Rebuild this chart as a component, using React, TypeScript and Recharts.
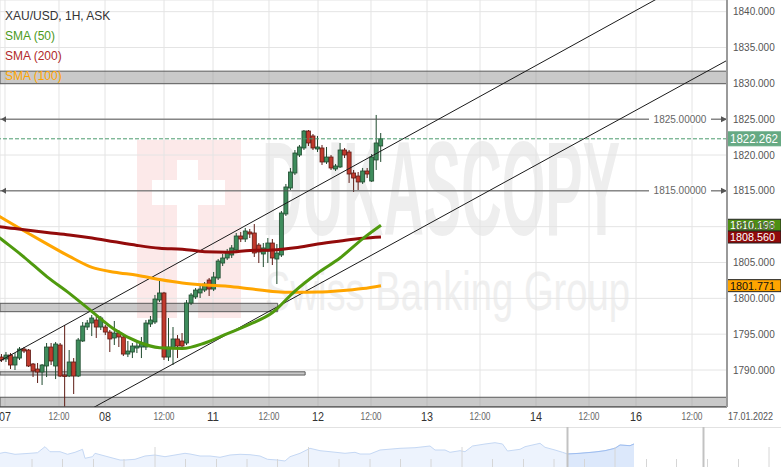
import React from "react";
import {
  ComposedChart,
  Bar,
  Line,
  XAxis,
  YAxis,
  CartesianGrid,
  ReferenceLine,
  ReferenceArea,
  AreaChart,
  Area,
} from "recharts";

const FONT = "'Liberation Sans', Arial, sans-serif";
const NARROW = "'Liberation Sans Narrow', 'Liberation Sans', Arial, sans-serif";

// ---------- hourly candles (bar index 0..84) ----------
const opens = [
  1791.81, 1791.54, 1792.09, 1790.7, 1791.67, 1792.93, 1792.79, 1790.84, 1790.14, 1789.72,
  1790.56, 1793.21, 1790.56, 1793.49, 1789.3, 1789.16, 1791.12, 1789.16, 1794.05, 1796.0,
  1796.56, 1796.98, 1796.0, 1796.0, 1795.3, 1794.47, 1795.16, 1794.61, 1792.23, 1792.51,
  1793.07, 1793.21, 1793.21, 1796.42, 1796.7, 1799.77, 1800.75, 1791.81, 1793.07, 1794.33,
  1794.05, 1793.77, 1799.35, 1800.19, 1800.75, 1801.16, 1802.56, 1801.3, 1802.84, 1804.93,
  1805.63, 1806.05, 1806.75, 1808.7, 1808.28, 1809.26, 1809.12, 1807.44, 1806.19, 1806.61,
  1807.72, 1805.49, 1806.05, 1811.77, 1815.4, 1817.49, 1820.0, 1820.98, 1823.35, 1822.66,
  1820.84, 1820.98, 1819.03, 1819.72, 1818.05, 1818.33, 1820.7, 1820.42, 1817.49, 1817.07,
  1816.24, 1817.77, 1816.37, 1819.31, 1821.26,
];
const highs = [
  1792.23, 1792.51, 1792.37, 1792.37, 1793.21, 1793.21, 1792.93, 1790.98, 1790.98, 1790.84,
  1793.77, 1793.77, 1793.91, 1793.77, 1796.28, 1792.79, 1791.67, 1794.47, 1796.7, 1796.98,
  1797.68, 1797.54, 1797.54, 1796.28, 1795.58, 1796.84, 1795.58, 1794.88, 1794.05, 1793.77,
  1794.19, 1794.61, 1796.98, 1797.54, 1800.47, 1802.42, 1800.9, 1797.26, 1796.0, 1794.88,
  1795.16, 1799.77, 1800.75, 1801.44, 1801.86, 1802.28, 1802.84, 1803.68, 1805.49, 1806.19,
  1806.89, 1807.44, 1809.12, 1809.26, 1809.82, 1809.68, 1810.37, 1807.72, 1807.72, 1808.42,
  1808.28, 1807.58, 1812.19, 1815.96, 1818.19, 1820.7, 1821.4, 1823.49, 1823.49, 1822.93,
  1822.66, 1821.4, 1821.12, 1820.0, 1818.75, 1821.68, 1820.98, 1820.7, 1817.91, 1817.63,
  1818.19, 1818.19, 1820.14, 1825.59, 1823.07,
];
const lows = [
  1791.12, 1791.12, 1790.14, 1790.0, 1791.4, 1792.37, 1790.42, 1789.02, 1788.19, 1787.91,
  1789.02, 1790.7, 1788.74, 1789.02, 1784.9, 1789.02, 1786.65, 1789.02, 1793.91, 1795.58,
  1794.74, 1794.47, 1795.58, 1794.88, 1792.51, 1793.49, 1793.21, 1791.95, 1791.81, 1791.67,
  1792.37, 1791.67, 1792.79, 1796.0, 1796.42, 1799.49, 1791.4, 1791.26, 1790.7, 1791.67,
  1792.93, 1793.49, 1799.07, 1799.91, 1800.05, 1800.88, 1800.33, 1801.02, 1802.56, 1804.51,
  1805.35, 1805.63, 1806.47, 1807.86, 1807.86, 1808.42, 1805.77, 1804.93, 1804.37, 1804.93,
  1804.65, 1802.0, 1805.77, 1811.49, 1815.12, 1817.21, 1819.72, 1820.7, 1821.26, 1820.7,
  1820.42, 1818.61, 1818.75, 1817.91, 1817.77, 1818.19, 1819.58, 1816.1, 1814.84, 1815.12,
  1815.96, 1816.79, 1816.24, 1817.91, 1819.03,
];
const closes = [
  1791.4, 1792.09, 1790.7, 1791.81, 1792.93, 1792.65, 1790.56, 1789.86, 1789.72, 1790.7,
  1793.21, 1791.26, 1793.63, 1789.16, 1789.09, 1791.12, 1789.16, 1794.19, 1796.14, 1796.56,
  1797.26, 1796.0, 1797.26, 1795.3, 1794.33, 1795.16, 1794.61, 1792.23, 1792.65, 1793.35,
  1793.35, 1793.77, 1796.56, 1796.98, 1799.91, 1800.75, 1791.81, 1793.21, 1794.33, 1793.35,
  1793.35, 1799.35, 1800.47, 1801.16, 1801.3, 1802.0, 1801.3, 1802.98, 1805.21, 1805.63,
  1806.47, 1807.03, 1808.7, 1808.28, 1809.4, 1808.98, 1806.33, 1806.47, 1807.03, 1807.72,
  1805.63, 1806.33, 1811.91, 1815.54, 1817.63, 1820.28, 1821.12, 1823.35, 1821.68, 1820.98,
  1821.12, 1819.03, 1819.72, 1818.19, 1818.47, 1820.7, 1820.0, 1817.35, 1816.79, 1816.24,
  1817.77, 1817.35, 1819.72, 1821.68, 1822.262,
];

// ---------- moving averages (sampled at bar index; first point lies just left of the view) ----------
const smaIdx = [-2, 0, 5, 10, 15, 20, 25, 30, 35, 40, 45, 50, 55, 60, 65, 70, 75, 80, 84];
const sma50 = [
  1809.2, 1808.21, 1805.73, 1803.03, 1800.69, 1798.14, 1795.65, 1793.98, 1793.11, 1793.0, 1793.77,
  1795.08, 1796.39, 1798.02, 1801.05, 1803.54, 1805.67, 1808.34, 1810.198,
];
const sma200 = [
  1810.1, 1809.97, 1809.56, 1809.19, 1808.85, 1808.42, 1807.89, 1807.39, 1807.0, 1806.86, 1806.51,
  1806.45, 1806.69, 1806.76, 1807.07, 1807.58, 1808.0, 1808.38, 1808.56,
];
const sma100 = [
  1812.0, 1811.24, 1809.4, 1807.6, 1805.85, 1804.32, 1803.65, 1803.22, 1802.62, 1802.14, 1801.86,
  1801.68, 1801.33, 1800.97, 1800.84, 1800.87, 1801.05, 1801.37, 1801.771,
];

// ---------- axes ----------
const xTicks = [0.73, 12.69, 22.88, 35.95, 46.8, 59.2, 70.06, 81.79, 94.2, 105.94, 118.34, 130.08, 140.49, 152.89];
const xTickLabels = ["07", "12:00", "08", "12:00", "11", "12:00", "12", "12:00", "13", "12:00", "14", "12:00", "16", "12:00"];
const yTicks = [1790, 1795, 1800, 1805, 1810, 1815, 1820, 1825, 1830, 1835, 1840];
const X_DOMAIN: [number, number] = [-0.3765, 160.64];
const Y_DOMAIN: [number, number] = [1784.84, 1841.63];
const dateLabel = "17.01.2022";

// ---------- drawings ----------
const zones = [
  { x1: -0.3765, x2: 160.64, y1: 1829.95, y2: 1831.7 },
  { x1: -0.3765, x2: 61.13, y1: 1798.14, y2: 1799.31 },
  { x1: -0.3765, x2: 67.2, y1: 1789.3, y2: 1789.75 },
  { x1: -0.3765, x2: 160.64, y1: 1784.84, y2: 1786.2 },
];
const channelUpper = [
  { x: -2, y: 1790.706 },
  { x: 150, y: 1843.48 },
];
const channelLower = [
  { x: 18, y: 1783.96 },
  { x: 165, y: 1834.71 },
];
const levels = [1825, 1815];
const lastPrice = 1822.262;
const tags = [
  { value: 1810.198, bg: "#4e8f12", fg: "#ffffff" },
  { value: 1808.56, bg: "#8e0a0a", fg: "#ffffff" },
  { value: 1801.771, bg: "#ffa500", fg: "#111111" },
];
const legendItems = [
  { text: "XAU/USD, 1H, ASK", color: "#333333" },
  { text: "SMA (50)", color: "#4c9a1c" },
  { text: "SMA (200)", color: "#b02a2a" },
  { text: "SMA (100)", color: "#ffa500" },
];

// ---------- navigator overview ----------
const navT = [
  0, 1, 3, 6, 7.5, 9, 10, 12, 13.5, 15, 16.5, 17, 18.5, 19, 21, 24, 25, 27, 29, 31, 33, 37, 38, 40, 42, 44,
  46, 48, 50, 52, 53.5, 55.5, 57, 58, 60, 62, 64, 66, 69, 71, 72, 74, 76, 80, 83, 86, 87, 89, 90, 92, 93,
  94.5, 97, 99, 100.5, 101.5, 104, 105, 108, 109, 111, 112.5, 113.5, 116, 119, 121, 123, 124, 126, 126.8,
];
const navV = [
  13.7, 14.7, 12.7, 13.7, 14.3, 20.3, 15.3, 15.3, 12.7, 14.7, 17.7, 8.7, 10.3, 13.7, 11, 7, 7, 7.7, 11, 12,
  10.3, 13.7, 13, 11, 11, 9.7, 12, 12.7, 12.3, 11, 7.7, 7, 6, 10.3, 13.7, 18.7, 16.3, 15.3, 13.7, 14.7, 13,
  13, 17, 18.7, 19.3, 21, 17, 17, 14.7, 16.3, 15.3, 21, 23, 24.3, 23, 16, 17.7, 20.3, 23.7, 19.7, 17, 14.7,
  13, 13.7, 15, 16.3, 18.7, 22, 21.3, 23,
];
const NAV_SEL_START = 113.5;
const NAV_SEL_END = 140.7;
const navTicks = [
  6.4, 12.5, 18.7, 24.8, 31, 37.1, 43.3, 49.4, 55.5, 61.7, 67.8, 74, 80.1, 86.2, 92.4, 98.5, 104.7, 110.8,
  116.9, 123, 129.3, 135.3, 141.5, 147.7, 153.8,
];
const navTallTicks = [31, 61.7, 92.4, 123, 153.8];

const candles = opens.map((o, i) => ({ idx: i, open: o, high: highs[i], low: lows[i], close: closes[i] }));
const sma50Data = smaIdx.map((idx, i) => ({ idx, v: sma50[i] }));
const sma200Data = smaIdx.map((idx, i) => ({ idx, v: sma200[i] }));
const sma100Data = smaIdx.map((idx, i) => ({ idx, v: sma100[i] }));
const navData = navT.map((t, i) => ({ t, v: navV[i], sel: t >= NAV_SEL_START ? navV[i] : null }));

const Candle = (props: any) => {
  const { x, y, width, height, payload } = props;
  if (!payload || x == null || y == null) return null;
  const { open, high, low, close } = payload;
  const top = Math.min(y, y + height);
  const h = Math.abs(height);
  const ppu = high - low > 0 ? h / (high - low) : 0;
  const yOf = (v: number) => top + (high - v) * ppu;
  const up = close >= open;
  const bTop = yOf(Math.max(open, close));
  const bBot = yOf(Math.min(open, close));
  const cx = x + width / 2;
  const edge = up ? "#1f4a2e" : "#5e1b14";
  return (
    <g>
      <line x1={cx} x2={cx} y1={top} y2={top + h} stroke={edge} strokeWidth={1} />
      <rect
        x={x}
        y={bTop}
        width={width}
        height={Math.max(1, bBot - bTop)}
        fill={up ? "#3e8c5c" : "#c13a2d"}
        stroke={edge}
        strokeWidth={0.8}
      />
    </g>
  );
};

const XTick = (props: any) => {
  const { x, y, payload } = props;
  const i = xTicks.indexOf(payload.value);
  const label = xTickLabels[i] ?? "";
  const day = label !== "12:00";
  return (
    <text
      x={x}
      y={y + (day ? 14 : 13)}
      textAnchor="middle"
      fontFamily={NARROW}
      fontSize={day ? 13 : 10}
      fill={day ? "#333" : "#666"}
      textLength={day ? 12 : 21}
      lengthAdjust="spacingAndGlyphs"
    >
      {label}
    </text>
  );
};

const YTick = (props: any) => {
  const { x, y, payload } = props;
  return (
    <text x={x + 6} y={y} dy={3.5} textAnchor="start" fontFamily={FONT} fontSize={10} fill="#555">
      {Number(payload.value).toFixed(3)}
    </text>
  );
};

const levelLabel = (text: string) => (props: any) => {
  const vb = props.viewBox || {};
  const x = vb.x ?? 0;
  const y = vb.y ?? 0;
  const r = x + (vb.width ?? 0);
  return (
    <g>
      <rect x={r - 78} y={y - 6} width={62} height={12} fill="#ffffff" />
      <text x={r - 47} y={y} dy={3.5} textAnchor="middle" fontFamily={FONT} fontSize={10} fill="#666">
        {text}
      </text>
      <path d={`M${x + 6},${y - 3} L${x + 1},${y} L${x + 6},${y + 3} Z`} fill="#555" />
      <path d={`M${r - 6},${y - 3} L${r},${y} L${r - 6},${y + 3} Z`} fill="#555" />
    </g>
  );
};

const priceTag = (text: string, bg: string, fg: string, h: number, fs: number, border: string) => (props: any) => {
  const vb = props.viewBox || {};
  const y = vb.y ?? 0;
  const r = (vb.x ?? 0) + (vb.width ?? 0);
  return (
    <g>
      <rect x={r} y={y - h / 2} width={54} height={h} fill={bg} stroke={border} strokeWidth={1} />
      <text
        x={r + 3}
        y={y}
        dy={fs * 0.36}
        fontFamily={FONT}
        fontSize={fs}
        fill={fg}
        textLength={fs > 11.5 ? 48 : 45}
        lengthAdjust="spacingAndGlyphs"
      >
        {text}
      </text>
    </g>
  );
};

export default function App() {
  return (
    <div
      style={{
        position: "absolute",
        left: 0,
        top: 0,
        width: 781,
        height: 467,
        background: "#ffffff",
        overflow: "hidden",
        fontFamily: FONT,
      }}
    >
      {/* watermark */}
      <svg width={781} height={427} style={{ position: "absolute", left: 0, top: 0 }}>
        <rect x={137} y={140} width={104} height={178} fill="#fce9e9" />
        <rect x={177} y={160} width={21} height={158} fill="#ffffff" />
        <rect x={152} y={180} width={73} height={25} fill="#ffffff" />
        <text
          x={262}
          y={235}
          fontSize={133}
          fontWeight="bold"
          fontFamily={NARROW}
          fill="#eeeeee"
          textLength={358}
          lengthAdjust="spacingAndGlyphs"
        >
          DUKASCOPY
        </text>
        <text
          x={265}
          y={310}
          fontSize={56}
          fontFamily={FONT}
          fill="#efefef"
          textLength={365}
          lengthAdjust="spacingAndGlyphs"
        >
          Swiss Banking Group
        </text>
      </svg>

      <div style={{ position: "absolute", left: 0, top: 0 }}>
        <ComposedChart
          width={781}
          height={427}
          data={candles}
          margin={{ top: 0, right: 0, bottom: 0, left: 0 }}
        >
          <CartesianGrid stroke="#e4e4e4" strokeWidth={1} />
          <XAxis
            dataKey="idx"
            type="number"
            domain={X_DOMAIN}
            allowDataOverflow
            ticks={xTicks}
            interval={0}
            height={20}
            tickSize={0}
            tickMargin={0}
            tickLine={false}
            axisLine={{ stroke: "#444", strokeWidth: 1 }}
            tick={<XTick />}
          />
          <YAxis
            orientation="right"
            type="number"
            domain={Y_DOMAIN}
            allowDataOverflow
            ticks={yTicks}
            interval={0}
            width={54}
            tickSize={0}
            tickMargin={0}
            tickLine={false}
            axisLine={{ stroke: "#9a9a9a", strokeWidth: 2 }}
            tick={<YTick />}
          />
          {zones.map((z, i) => (
            <ReferenceArea
              key={"z" + i}
              x1={z.x1}
              x2={z.x2}
              y1={z.y1}
              y2={z.y2}
              fill="#8f8f8f"
              fillOpacity={0.48}
              stroke="#5a5a5a"
              strokeWidth={1}
              ifOverflow="hidden"
            />
          ))}
          {levels.map((lv) => (
            <ReferenceLine
              key={"lv" + lv}
              y={lv}
              stroke="#555"
              strokeWidth={1}
              label={levelLabel(lv.toFixed(5))}
            />
          ))}
          <ReferenceLine segment={channelUpper} stroke="#1a1a1a" strokeWidth={1} ifOverflow="hidden" />
          <ReferenceLine segment={channelLower} stroke="#1a1a1a" strokeWidth={1} ifOverflow="hidden" />
          <Line
            data={sma100Data}
            dataKey="v"
            type="monotone"
            stroke="#ffa500"
            strokeWidth={3}
            dot={false}
            activeDot={false}
            isAnimationActive={false}
          />
          <Line
            data={sma200Data}
            dataKey="v"
            type="monotone"
            stroke="#930b0b"
            strokeWidth={3}
            dot={false}
            activeDot={false}
            isAnimationActive={false}
          />
          <Bar
            dataKey={(d: any) => [d.low, d.high]}
            barSize={4}
            shape={<Candle />}
            isAnimationActive={false}
          />
          <Line
            data={sma50Data}
            dataKey="v"
            type="monotone"
            stroke="#4f9a0e"
            strokeWidth={3}
            dot={false}
            activeDot={false}
            isAnimationActive={false}
          />
          <ReferenceLine
            y={lastPrice}
            stroke="#4c9c6e"
            strokeDasharray="4 2"
            strokeWidth={1}
            label={priceTag(lastPrice.toFixed(3), "#66a983", "#ffffff", 14, 12.5, "#66a983")}
          />
          {tags.map((t) => (
            <ReferenceLine
              key={"tag" + t.value}
              y={t.value}
              stroke="none"
              label={priceTag(t.value.toFixed(3), t.bg, t.fg, 12, 11, "#222")}
            />
          ))}
        </ComposedChart>
      </div>

      {/* legend */}
      <div style={{ position: "absolute", left: 5, top: 6, fontSize: 12, lineHeight: "20px", fontFamily: FONT }}>
        {legendItems.map((it) => (
          <div key={it.text} style={{ color: it.color, whiteSpace: "nowrap" }}>
            {it.text}
          </div>
        ))}
      </div>

      <svg width={781} height={427} style={{ position: "absolute", left: 0, top: 0, pointerEvents: "none" }}>
        <text
          x={728}
          y={420}
          fontSize={10.5}
          fontFamily={NARROW}
          fill="#555"
          textLength={45}
          lengthAdjust="spacingAndGlyphs"
        >
          {dateLabel}
        </text>
      </svg>

      <div style={{ position: "absolute", left: 0, top: 427, width: 781, height: 1, background: "#e2e2e2" }} />

      <div style={{ position: "absolute", left: 0, top: 427 }}>
        <AreaChart width={781} height={40} data={navData} margin={{ top: 0, right: 0, bottom: 0, left: 0 }}>
          <XAxis dataKey="t" type="number" domain={[0, 156.2]} hide allowDataOverflow />
          <YAxis type="number" domain={[0, 40]} hide allowDataOverflow />
          {navTicks.map((t) => (
            <ReferenceLine
              key={"nt" + t}
              segment={[
                { x: t, y: 0 },
                { x: t, y: navTallTicks.includes(t) ? 20 : 8 },
              ]}
              stroke="#d6d6d6"
              strokeWidth={1}
            />
          ))}
          <Area
            dataKey="v"
            type="linear"
            stroke="#c5d8f4"
            strokeWidth={1}
            fill="#edf3fd"
            fillOpacity={1}
            isAnimationActive={false}
          />
          <Area
            dataKey="sel"
            type="linear"
            stroke="#9dbdf0"
            strokeWidth={1}
            fill="#dce8fb"
            fillOpacity={1}
            isAnimationActive={false}
          />
          <ReferenceLine x={NAV_SEL_START} stroke="#c2c2c2" strokeWidth={2} />
          <ReferenceLine x={NAV_SEL_END} stroke="#c2c2c2" strokeWidth={2} />
        </AreaChart>
      </div>
    </div>
  );
}
